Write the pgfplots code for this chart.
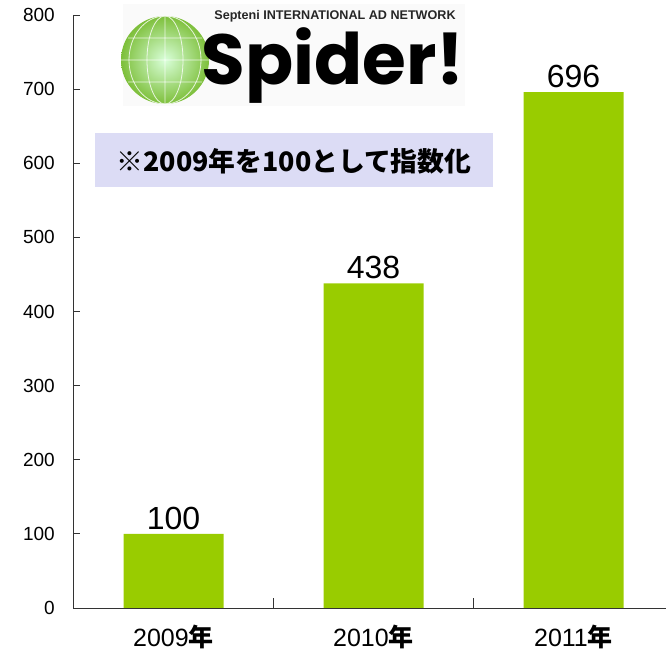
\documentclass[border=0pt]{standalone}
\usepackage{fontspec}
\setmainfont{Liberation Sans}
\newfontfamily\cjk{Noto Sans CJK JP}
\newfontfamily\logofont{Poppins}
\usepackage{pgfplots}
\pgfplotsset{compat=1.18}
\usetikzlibrary{calc}
\definecolor{bargreen}{HTML}{99CC00}
\definecolor{notebg}{HTML}{DCDCF5}
\definecolor{globe}{HTML}{7DBF3A}

\begin{document}
\begin{tikzpicture}
\begin{axis}[
    name=ax,
    scale only axis,
    width=592.5pt, height=593pt,
    xmin=-0.5, xmax=2.4625,
    ymin=0, ymax=800,
    axis line style={draw=none},
    % axis lines and short inward ticks
    extra description/.code={
      \draw[black!80, line width=0.8pt] (0,1) -- (0,0) -- (1,0);
      \foreach \k in {0,100,...,800}
        \draw[black!80, line width=0.8pt] (axis cs:-0.5,\k) -- ++(7pt,0);
      \foreach \k in {0.5,1.5}
        \draw[black!80, line width=0.8pt] (axis cs:\k,0) -- ++(0,10pt);
    },
    tick align=inside,
    xtick pos=bottom, ytick pos=left,
    major tick length=0pt,
    tick style={draw=none},
    ytick={0,100,...,800},
    yticklabel style={font=\fontsize{19}{19}\selectfont, anchor=east, inner sep=0pt, xshift=-18.5pt},
    /pgf/number format/assume math mode=true,
    xtick={0,1,2},
    xticklabels={2009{\cjk\bfseries 年}, 2010{\cjk\bfseries 年}, 2011{\cjk\bfseries 年}},
    xticklabel style={font=\fontsize{25}{25}\selectfont, anchor=north, inner sep=0pt, yshift=-17pt},
    ybar, bar width=100pt,
    clip=false,
    nodes near coords,
    every node near coord/.append style={font=\fontsize{32}{32}\selectfont, black, inner sep=0pt, yshift=4pt},
]
\addplot[fill=bargreen, draw=none] coordinates {(0,100) (1,438) (2,696)};
\end{axis}
\begin{scope}[shift={(ax.south west)}, xshift=-73.5pt, yshift=608pt, x=1pt, y=-1pt]
  % logo
  \fill[black!2] (123,4) rectangle (465,106);
  \shade[inner color=green!15!white, outer color=globe] (165,60) circle (44);
  \draw[white, line width=0.8pt, opacity=0.8] (165,60) ellipse (18 and 44) (165,60) ellipse (36 and 44)
      (121,60) -- (209,60) (128,38) -- (202,38) (128,82) -- (202,82) (165,16) -- (165,104);
  \node[font=\fontsize{12.6}{12.6}\selectfont\bfseries, black!85] at (335,16) {Septeni INTERNATIONAL AD NETWORK};
  \node[font=\logofont\fontsize{71}{71}\selectfont\bfseries, black] at (333,66) {Spider!};
  % note
  \fill[notebg] (95,133) rectangle (493,187);
  \node[font=\cjk\fontsize{26.8}{26.8}\selectfont\bfseries] at (294,161) {※2009年を100として指数化};
\end{scope}
\pgfresetboundingbox
\path ($(ax.south west)+(-73.5pt,-47pt)$) rectangle ++(666pt,655pt);
\end{tikzpicture}
\end{document}
